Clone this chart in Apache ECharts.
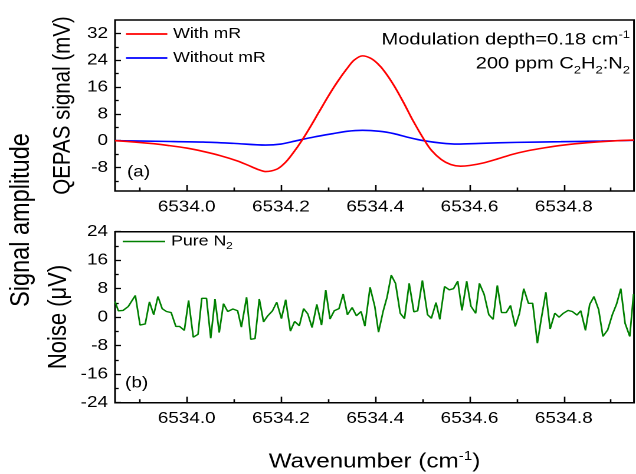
<!DOCTYPE html>
<html><head><meta charset="utf-8">
<script src="https://cdn.jsdelivr.net/npm/echarts@6/dist/echarts.min.js"></script>
<style>
html,body{margin:0;padding:0;width:636px;height:474px;overflow:hidden;background:#fff;}
#chart{width:539px;height:474px;transform:scaleX(1.18);transform-origin:0 0;}
</style></head><body><div id="chart"></div>
<script>
// ---- data ----
const xMin = 6533.848, xMax = 6534.949;
const xTickLabels = [6534.0, 6534.2, 6534.4, 6534.6, 6534.8];
const xMinorTicks = [6533.9, 6534.1, 6534.3, 6534.5, 6534.7, 6534.9];
const topYMin = -15, topYMax = 36;
const topYTicks = [-8, 0, 8, 16, 24, 32];
const topYMinor = [-12, -4, 4, 12, 20, 28];
const botYMin = -24, botYMax = 24;
const botYTicks = [-24, -16, -8, 0, 8, 16, 24];
const botYMinor = [-20, -12, -4, 4, 12, 20];

const redX = [6533.848,6533.89,6533.93,6533.96,6534.00,6534.035,6534.07,6534.107,6534.13,6534.15,6534.167,6534.18,6534.194,6534.21,6534.225,6534.244,6534.26,6534.28,6534.30,6534.32,6534.34,6534.355,6534.373,6534.39,6534.405,6534.42,6534.44,6534.46,6534.48,6534.505,6534.52,6534.54,6534.56,6534.581,6534.60,6534.63,6534.66,6534.69,6534.72,6534.76,6534.80,6534.85,6534.90,6534.949];
const redY = [0.0,-0.4,-0.9,-1.4,-2.2,-3.2,-4.4,-6.0,-7.3,-8.5,-9.2,-9.0,-8.3,-6.4,-3.8,0.0,3.6,8.4,13.2,17.6,21.5,24.0,25.3,24.6,23.0,20.6,16.4,11.4,6.0,0.0,-3.0,-5.6,-7.1,-7.6,-7.4,-6.6,-5.4,-4.1,-3.1,-2.1,-1.3,-0.6,-0.1,0.2];

const blueX = [6533.848,6533.95,6534.035,6534.10,6534.167,6534.20,6534.233,6534.27,6534.31,6534.34,6534.373,6534.41,6534.44,6534.47,6534.503,6534.54,6534.575,6534.62,6534.70,6534.794,6534.88,6534.949];
const blueY = [0.0,-0.2,-0.4,-0.8,-1.3,-1.0,0.0,1.1,2.1,2.8,3.1,2.8,2.1,1.0,0.0,-0.7,-1.0,-0.8,-0.5,-0.3,-0.1,0.1];

const noiseX = [6533.848,6533.855,6533.865,6533.876,6533.891,6533.901,6533.912,6533.921,6533.930,6533.939,
6533.948,6533.957,6533.967,6533.977,6533.985,6533.995,6534.004,6534.014,6534.024,6534.032,
6534.042,6534.051,6534.060,6534.069,6534.078,6534.087,6534.098,6534.108,6534.116,6534.127,
6534.136,6534.145,6534.154,6534.163,6534.172,6534.182,6534.191,6534.201,6534.210,6534.220,
6534.229,6534.239,6534.248,6534.257,6534.266,6534.276,6534.286,6534.295,6534.304,6534.313,
6534.323,6534.332,6534.341,6534.351,6534.360,6534.370,6534.378,6534.389,6534.399,6534.407,
6534.417,6534.425,6534.434,6534.443,6534.453,6534.462,6534.472,6534.482,6534.490,6534.500,
6534.511,6534.519,6534.529,6534.537,6534.547,6534.557,6534.566,6534.575,6534.584,6534.594,
6534.603,6534.613,6534.621,6534.631,6534.641,6534.650,6534.659,6534.668,6534.678,6534.687,
6534.697,6534.706,6534.715,6534.725,6534.734,6534.744,6534.752,6534.762,6534.771,6534.781,
6534.790,6534.799,6534.809,6534.818,6534.828,6534.836,6534.846,6534.855,6534.864,6534.874,
6534.883,6534.893,6534.903,6534.912,6534.921,6534.930,6534.940,6534.948];
const noiseY = [4.4,1.8,1.9,3.0,6.1,-2.2,-1.9,4.3,0.7,5.8,
2.4,1.6,1.3,-2.6,-2.6,-3.7,4.7,-5.6,-4.8,5.3,
5.3,-5.9,5.1,-4.3,3.8,1.6,2.3,1.8,-2.8,5.6,
-6.2,-6.0,5.1,-1.3,0.4,1.8,4.2,-0.4,4.9,-3.9,
-1.2,-2.4,2.4,0.9,-2.9,3.6,-2.2,7.6,-0.5,1.8,
2.4,6.5,0.7,2.7,0.4,1.6,-2.5,8.4,3.0,-4.2,
1.8,5.6,11.8,9.5,1.1,-0.4,9.5,1.5,1.8,10.3,
0.7,-0.3,4.1,-0.6,8.6,7.7,8.0,10.1,1.9,10.1,
3.1,1.1,9.5,6.4,0.7,-0.6,8.9,1.3,1.3,3.3,
-2.6,1.1,8.0,3.9,3.9,-7.3,-0.6,7.0,-3.3,1.1,
0.0,1.1,1.9,1.6,0.6,1.8,-3.7,3.6,5.8,2.1,
-5.4,-3.6,0.7,3.7,8.0,-1.7,-5.4,6.5];

// ---- chart ----
const FONT = '"Liberation Sans", Arial, sans-serif';
const pair = (xs, ys) => xs.map((x, i) => [x, ys[i]]);
const grids = [
  {left: 97.5, right: 1.7, top: 20, height: 171},
  {left: 97.5, right: 1.7, top: 231.7, height: 171}
];
const hiddenLine = {show: false, onZero: false};
function xAxes(g) {
  return [
    {gridIndex: g, type: 'value', min: xMin, max: xMax, position: 'bottom',
     axisLine: hiddenLine, splitLine: {show: false},
     axisTick: {inside: true, length: 6, customValues: xTickLabels, lineStyle: {color: '#000', width: 1.3}},
     axisLabel: {customValues: xTickLabels, formatter: v => v.toFixed(1), fontSize: 16, color: '#000', margin: 8, fontFamily: FONT}},
    {gridIndex: g, type: 'value', min: xMin, max: xMax, position: 'bottom',
     axisLine: hiddenLine, splitLine: {show: false}, axisLabel: {show: false},
     axisTick: {inside: true, length: 3.5, customValues: xMinorTicks, lineStyle: {color: '#000', width: 1.3}}}
  ];
}
function yAxes(g, mn, mx, major, minor) {
  return [
    {gridIndex: g, type: 'value', min: mn, max: mx, position: 'left',
     axisLine: hiddenLine, splitLine: {show: false},
     axisTick: {inside: true, length: 5, customValues: major, lineStyle: {color: '#000', width: 1.3}},
     axisLabel: {customValues: major, fontSize: 16, color: '#000', margin: 6, fontFamily: FONT}},
    {gridIndex: g, type: 'value', min: mn, max: mx, position: 'left',
     axisLine: hiddenLine, splitLine: {show: false}, axisLabel: {show: false},
     axisTick: {inside: true, length: 3, customValues: minor, lineStyle: {color: '#000', width: 1.3}}}
  ];
}
const supRich = {
  m: {fontSize: 20.5, lineHeight: 30, fontFamily: FONT, color: '#000'},
  sup: {fontSize: 13, height: 19, verticalAlign: 'top', fontFamily: FONT, color: '#000'}
};
const annRich = {
  m: {fontSize: 17, lineHeight: 26, fontFamily: FONT, color: '#000'},
  sup: {fontSize: 11, height: 16, verticalAlign: 'top', fontFamily: FONT, color: '#000'},
  sub: {fontSize: 11, height: 13, verticalAlign: 'bottom', fontFamily: FONT, color: '#000'}
};
function txt(x, y, text, size, rot, align) {
  return {type: 'text', x: x, y: y, rotation: rot || 0, z: 100,
    style: {text: text, fontSize: size, fontFamily: FONT, fill: '#000',
      textAlign: align || 'center', textVerticalAlign: 'middle'}};
}
function richTxt(x, y, text, rich, align) {
  return {type: 'text', x: x, y: y, z: 100,
    style: {text: text, rich: rich, fill: '#000', textAlign: align || 'center', textVerticalAlign: 'middle'}};
}

const chart = echarts.init(document.getElementById('chart'), null, {renderer: 'canvas', devicePixelRatio: 2});
chart.setOption({
  animation: false,
  backgroundColor: '#fff',
  textStyle: {fontFamily: FONT},
  grid: grids.map(g => Object.assign({show: true, borderColor: '#000', borderWidth: 1.5, backgroundColor: 'transparent'}, g)),
  xAxis: [...xAxes(0), ...xAxes(1)],
  yAxis: [...yAxes(0, topYMin, topYMax, topYTicks, topYMinor), ...yAxes(1, botYMin, botYMax, botYTicks, botYMinor)],
  legend: [
    {data: [{name: 'With mR', icon: 'rect', itemStyle: {color: '#ff0000'}}, {name: 'Without mR', icon: 'rect', itemStyle: {color: '#0000ff'}}],
     orient: 'vertical', left: 106.8, top: 25.5, itemWidth: 35, itemHeight: 1.8, itemGap: 7, padding: 0,
     textStyle: {fontSize: 15, lineHeight: 17, color: '#000', fontFamily: FONT}},
    {data: [{name: 'Pure N2', icon: 'rect', itemStyle: {color: '#008000'}}], left: 104, top: 234, itemWidth: 36, itemHeight: 1.6, padding: 0,
     formatter: () => '{n|Pure N}{s|2}',
     textStyle: {color: '#000', rich: {
       n: {fontSize: 15, lineHeight: 22, fontFamily: FONT, color: '#000'},
       s: {fontSize: 10, height: 12.6, verticalAlign: 'bottom', fontFamily: FONT, color: '#000'}}}}
  ],
  series: [
    {type: 'line', name: 'Without mR', xAxisIndex: 0, yAxisIndex: 0, data: pair(blueX, blueY), symbol: 'none',
     smooth: 0.3, lineStyle: {color: '#0000ff', width: 1.6}, itemStyle: {color: '#0000ff'}, z: 2},
    {type: 'line', name: 'With mR', xAxisIndex: 0, yAxisIndex: 0, data: pair(redX, redY), symbol: 'none',
     smooth: 0.3, lineStyle: {color: '#ff0000', width: 1.6}, itemStyle: {color: '#ff0000'}, z: 3},
    {type: 'line', name: 'Pure N2', xAxisIndex: 2, yAxisIndex: 2, data: pair(noiseX, noiseY), symbol: 'none',
     lineStyle: {color: '#008000', width: 1.4}, itemStyle: {color: '#008000'}, z: 2}
  ],
  graphic: [
    txt(17.8, 220, 'Signal amplitude', 23.5, Math.PI / 2),
    txt(53.4, 105.5, 'QEPAS signal (mV)', 20.5, Math.PI / 2),
    txt(50, 317, 'Noise (\u03bcV)', 22, Math.PI / 2),
    richTxt(317.4, 462, '{m|Wavenumber (cm}{sup|-1}{m|)}', supRich),
    richTxt(533.9, 40, '{m|Modulation depth=0.18 cm}{sup|-1}', annRich, 'right'),
    richTxt(533.9, 64, '{m|200 ppm C}{sub|2}{m|H}{sub|2}{m|:N}{sub|2}', annRich, 'right'),
    txt(107.6, 172, '(a)', 16, 0, 'left'),
    txt(106, 383, '(b)', 16, 0, 'left')
  ]
});
</script></body></html>
